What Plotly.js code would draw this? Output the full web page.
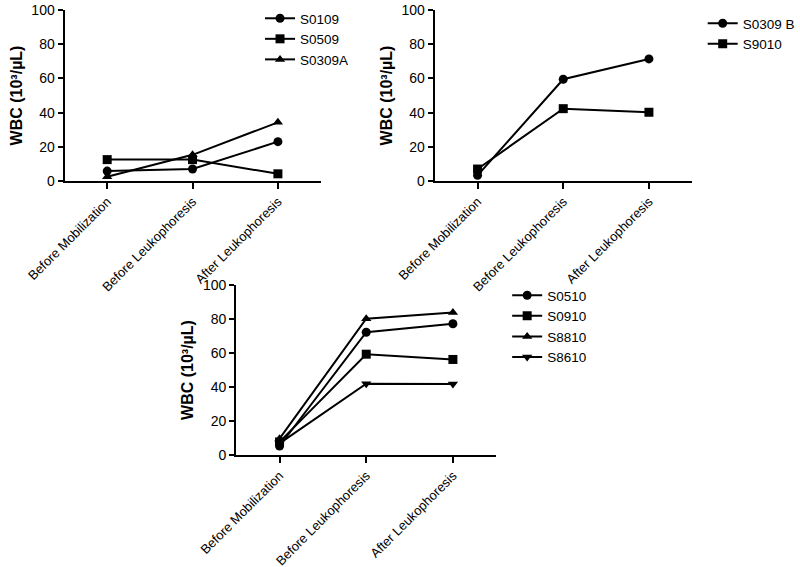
<!DOCTYPE html>
<html>
<head>
<meta charset="utf-8">
<script src="https://cdn.plot.ly/plotly-3.0.1.min.js"></script>
<style>html,body{margin:0;padding:0;background:#fff;}#chart{width:800px;height:567px;}</style>
</head>
<body>
<div id="chart"></div>
<script>
// Categories (x axis)
const categories = ["Before Mobilization", "Before Leukophoresis", "After Leukophoresis"];
const yTicks = [0, 20, 40, 60, 80, 100];
const yTitle = "WBC (10³/µL)";

// Panel 1 (top-left)
const p1Names = ["S0109", "S0509", "S0309A"];
const S0109 = [5.8, 7.0, 23.0];
const S0509 = [12.5, 12.5, 4.2];
const S0309A = [2.5, 15.3, 34.3];

// Panel 2 (top-right)
const p2Names = ["S0309 B", "S9010"];
const S0309B = [3.3, 59.5, 71.4];
const S9010 = [7.0, 42.3, 40.2];

// Panel 3 (bottom)
const p3Names = ["S0510", "S0910", "S8810", "S8610"];
const S0510 = [5.3, 72.2, 77.2];
const S0910 = [7.7, 59.3, 56.2];
const S8810 = [9.6, 80.2, 83.8];
const S8610 = [6.8, 41.9, 41.7];

const symbols = ["circle", "square", "triangle-up", "triangle-down"];

function trace(name, y, sym, ax, leg) {
  return {
    x: categories, y: y, name: name, type: "scatter", mode: "lines+markers",
    line: {color: "#000", width: 2},
    marker: {symbol: sym, size: 9, color: "#000"},
    xaxis: "x" + ax, yaxis: "y" + ax, legend: leg, cliponaxis: false
  };
}

const data = [
  trace(p1Names[0], S0109, symbols[0], "", "legend"),
  trace(p1Names[1], S0509, symbols[1], "", "legend"),
  trace(p1Names[2], S0309A, symbols[2], "", "legend"),
  trace(p2Names[0], S0309B, symbols[0], "2", "legend2"),
  trace(p2Names[1], S9010, symbols[1], "2", "legend2"),
  trace(p3Names[0], S0510, symbols[0], "3", "legend3"),
  trace(p3Names[1], S0910, symbols[1], "3", "legend3"),
  trace(p3Names[2], S8810, symbols[2], "3", "legend3"),
  trace(p3Names[3], S8610, symbols[3], "3", "legend3")
];

const W = 800, H = 567;
const FONT = "Liberation Sans, Arial, sans-serif";
function xa(x0, x1, anchor) {
  return {
    domain: [x0 / W, x1 / W], anchor: anchor, type: "category",
    range: [-0.5, 2.5], showline: true, linecolor: "#000", linewidth: 2,
    ticks: "outside", ticklen: 6, tickwidth: 2, tickcolor: "#000",
    tickangle: -45, showgrid: false, zeroline: false,
    tickfont: {family: FONT, size: 13, color: "#000"}
  };
}
function ya(y0, y1, anchor) {
  return {
    domain: [1 - y1 / H, 1 - y0 / H], anchor: anchor, range: [0, 100],
    tickvals: yTicks, showline: true, linecolor: "#000", linewidth: 2,
    ticks: "outside", ticklen: 5, tickwidth: 2, tickcolor: "#000",
    showgrid: false, zeroline: false,
    tickfont: {family: FONT, size: 14, color: "#000"},
    title: {text: "<b>" + yTitle + "</b>", font: {family: FONT, size: 16, color: "#000"}, standoff: 5}
  };
}
const legFont = {family: FONT, size: 13.5, color: "#000"};
const layout = {
  width: W, height: H,
  margin: {l: 0, r: 0, t: 0, b: 0},
  paper_bgcolor: "#fff", plot_bgcolor: "#fff",
  showlegend: true,
  xaxis: xa(65, 323, "y"),
  yaxis: ya(10, 181, "x"),
  xaxis2: xa(438, 697, "y2"),
  yaxis2: ya(10, 181, "x2"),
  xaxis3: xa(238, 500, "y3"),
  yaxis3: ya(285, 455, "x3"),
  legend: {x: 262 / W, y: 1 - 3 / H, xanchor: "left", yanchor: "top", font: legFont, itemwidth: 30, bgcolor: "rgba(0,0,0,0)", tracegroupgap: 0},
  legend2: {x: 708 / W, y: 1 - 8 / H, xanchor: "left", yanchor: "top", font: legFont, itemwidth: 30, bgcolor: "rgba(0,0,0,0)"},
  legend3: {x: 511 / W, y: 1 - 280 / H, xanchor: "left", yanchor: "top", font: legFont, itemwidth: 30, bgcolor: "rgba(0,0,0,0)"}
};

Plotly.newPlot("chart", data, layout, {displayModeBar: false, staticPlot: true});
</script>
</body>
</html>
